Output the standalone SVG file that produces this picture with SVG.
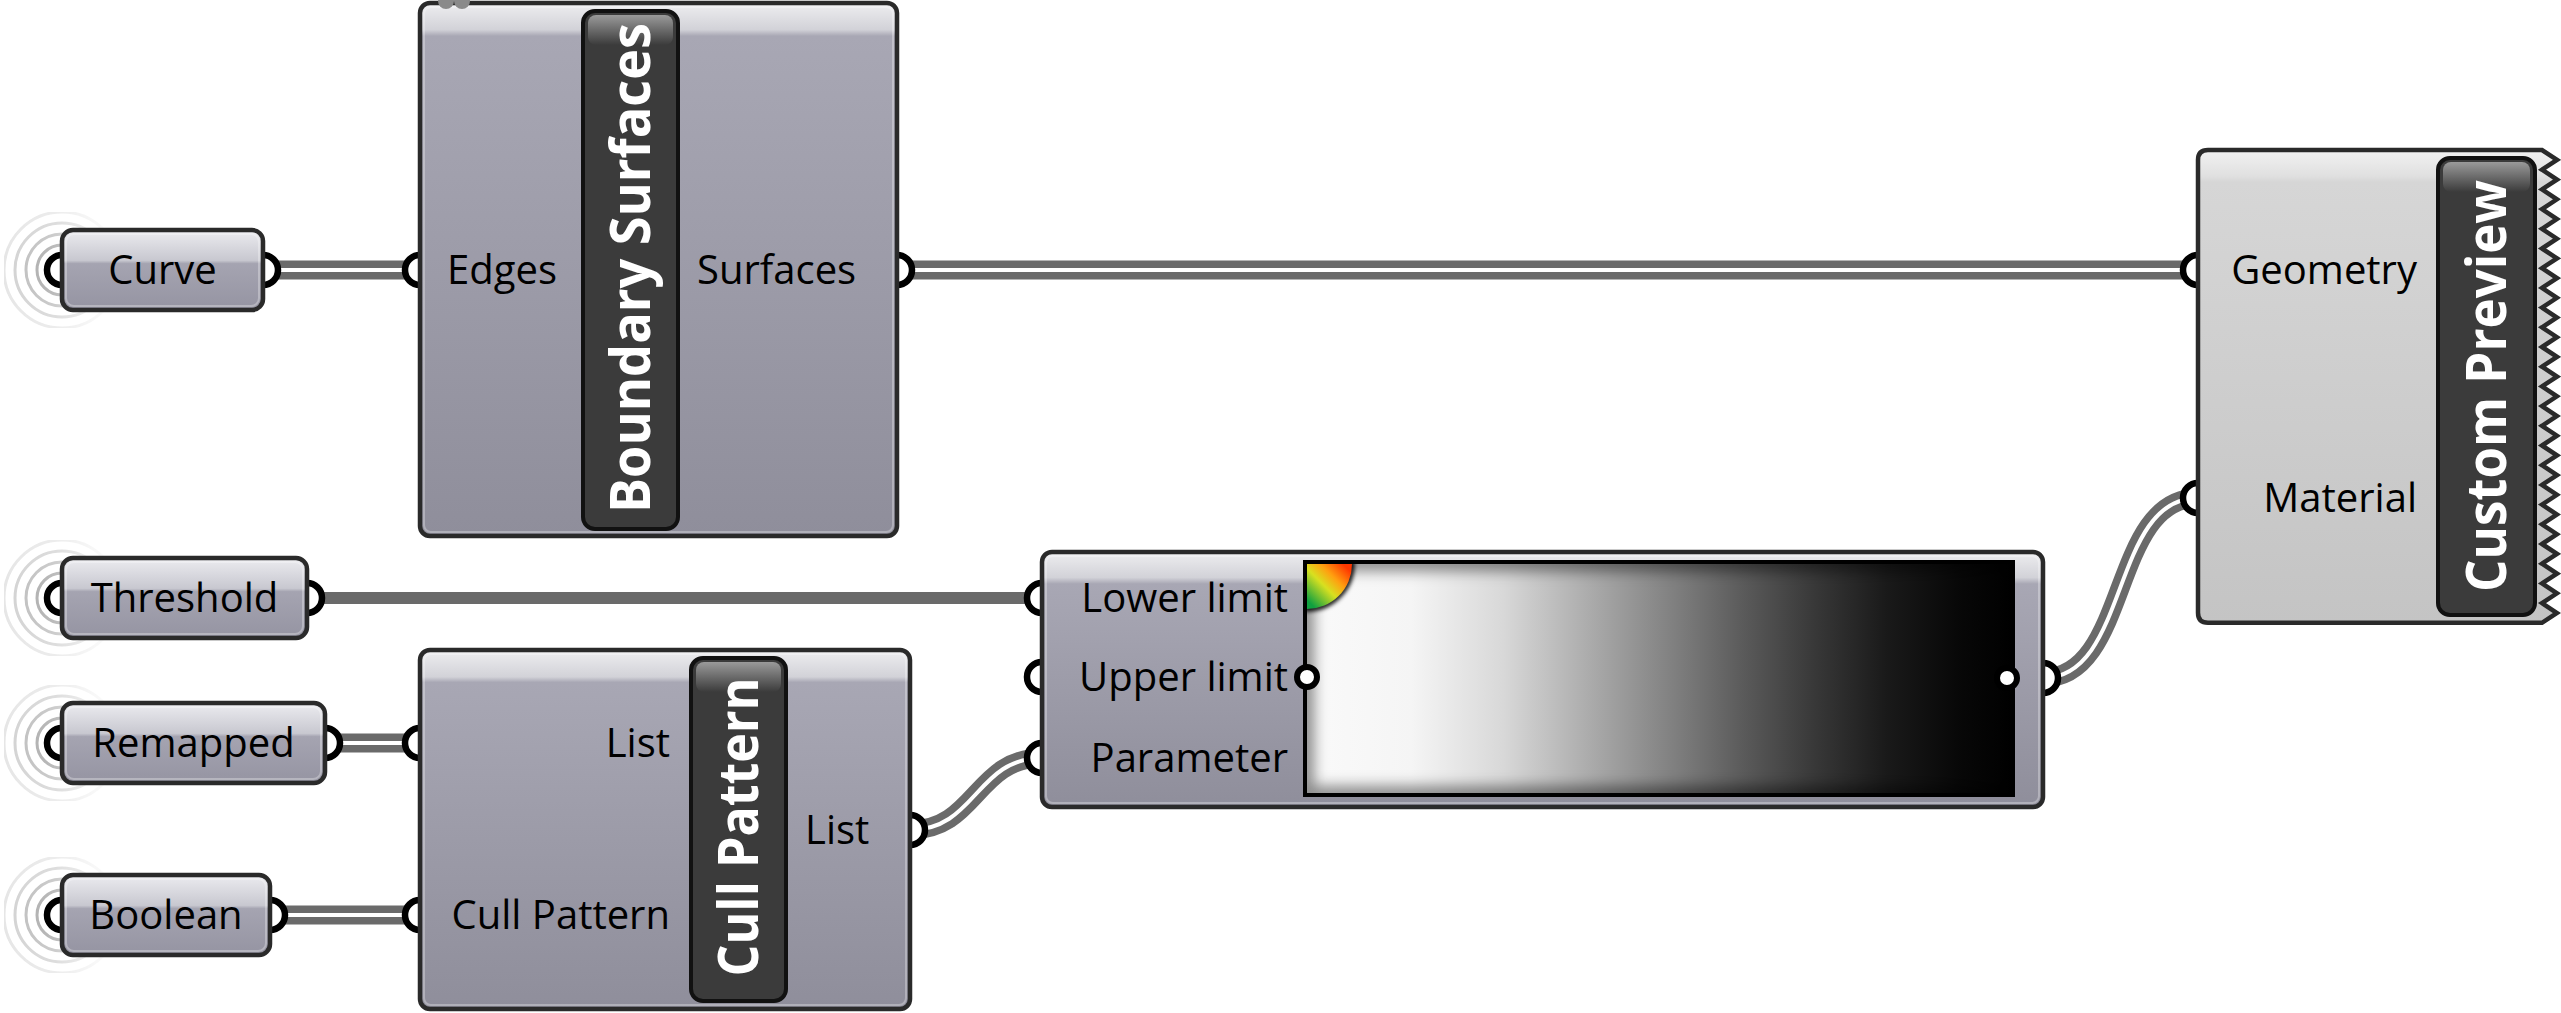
<svg xmlns="http://www.w3.org/2000/svg" width="2561" height="1013" viewBox="0 0 2561 1013">
<style>
.lbl{font-family:'Open Sans','Liberation Sans',sans-serif;font-size:40px;fill:#000}
.ttl{font-family:'Open Sans','Liberation Sans',sans-serif;font-size:55px;font-weight:700;fill:#fff}
.wo{fill:none;stroke:#6a6a6a;stroke-width:19}
.wi{fill:none;stroke:#fff;stroke-width:4}
.port{fill:#fff;stroke:#000;stroke-width:6.5}
.body{stroke:#2a2a2a;stroke-width:4.5}
.rim{fill:none;stroke:#fff;stroke-opacity:0.3;stroke-width:2}
.bar{fill:#3b3b3b;stroke:#111;stroke-width:4}
.barhi{fill:url(#gBarHi)}
.ring{fill:none;stroke-width:3}
.grip{fill:#fff;stroke:#000;stroke-width:6}
</style>
<defs>
<linearGradient id="gParam" x1="0" y1="0" x2="0" y2="1">
<stop offset="0" stop-color="#ececf0"/><stop offset="0.38" stop-color="#c8c8d0"/><stop offset="0.42" stop-color="#a5a4b1"/><stop offset="1" stop-color="#9594a2"/>
</linearGradient>
<linearGradient id="gBS" x1="0" y1="0" x2="0" y2="1">
<stop offset="0" stop-color="#eeeef0"/><stop offset="0.05" stop-color="#d2d2d8"/><stop offset="0.062" stop-color="#a8a7b4"/><stop offset="1" stop-color="#8f8e9b"/>
</linearGradient>
<linearGradient id="gCP" x1="0" y1="0" x2="0" y2="1">
<stop offset="0" stop-color="#eeeef0"/><stop offset="0.075" stop-color="#d2d2d8"/><stop offset="0.09" stop-color="#a8a7b4"/><stop offset="1" stop-color="#8f8e9b"/>
</linearGradient>
<linearGradient id="gGR" x1="0" y1="0" x2="0" y2="1">
<stop offset="0" stop-color="#eeeef0"/><stop offset="0.1" stop-color="#d2d2d8"/><stop offset="0.125" stop-color="#a8a7b4"/><stop offset="1" stop-color="#8f8e9b"/>
</linearGradient>
<linearGradient id="gPrev" x1="0" y1="0" x2="0" y2="1">
<stop offset="0" stop-color="#f2f2f2"/><stop offset="0.055" stop-color="#e0e0e0"/><stop offset="0.068" stop-color="#d6d6d6"/><stop offset="1" stop-color="#c4c4c4"/>
</linearGradient>
<linearGradient id="gBarHi" x1="0" y1="0" x2="0" y2="1">
<stop offset="0" stop-color="#9a9a9a"/><stop offset="1" stop-color="#3b3b3b"/>
</linearGradient>
<linearGradient id="gBW" x1="0" y1="0" x2="1" y2="0">
<stop offset="0" stop-color="#fafafa"/><stop offset="0.15" stop-color="#f5f5f5"/><stop offset="0.28" stop-color="#d8d8d8"/><stop offset="0.4" stop-color="#acacac"/><stop offset="0.52" stop-color="#808080"/><stop offset="0.62" stop-color="#5a5a5a"/><stop offset="0.72" stop-color="#383838"/><stop offset="0.82" stop-color="#1a1a1a"/><stop offset="0.92" stop-color="#080808"/><stop offset="1" stop-color="#000"/>
</linearGradient>
<linearGradient id="gGroove1" x1="0" y1="0" x2="1" y2="0">
<stop offset="0" stop-color="#8c8c8c"/><stop offset="0.5" stop-color="#555"/><stop offset="1" stop-color="#111"/>
</linearGradient>
<linearGradient id="gGroove2" x1="0" y1="0" x2="1" y2="0">
<stop offset="0" stop-color="#f8f8f8"/><stop offset="0.5" stop-color="#c0c0c0"/><stop offset="1" stop-color="#808080"/>
</linearGradient>
<linearGradient id="gPie" x1="0" y1="1" x2="1" y2="0">
<stop offset="0.1" stop-color="#10a040"/><stop offset="0.45" stop-color="#d8e020"/><stop offset="0.65" stop-color="#ffa010"/><stop offset="0.9" stop-color="#ff3800"/>
</linearGradient>
<linearGradient id="gFade" x1="0" y1="0" x2="1" y2="0">
<stop offset="0" stop-color="#fff"/><stop offset="0.45" stop-color="#fff" stop-opacity="0.75"/><stop offset="1" stop-color="#fff" stop-opacity="0"/>
</linearGradient>
<mask id="fade" maskContentUnits="objectBoundingBox"><rect width="1" height="1" fill="url(#gFade)"/></mask>
<filter id="blur6" x="-20%" y="-20%" width="140%" height="140%"><feGaussianBlur stdDeviation="7"/></filter>
<filter id="blur2" x="-20%" y="-20%" width="140%" height="140%"><feGaussianBlur stdDeviation="2"/></filter>
<clipPath id="clipGrad"><rect x="1305" y="562" width="708" height="233"/></clipPath>
<g id="rings">
<circle class="ring" r="25" stroke="#a6a6a6"/><circle class="ring" r="36" stroke="#bcbcbc"/><circle class="ring" r="47" stroke="#d2d2d2"/><circle class="ring" r="58" stroke="#e6e6e6"/>
</g>
</defs>
<rect width="2561" height="1013" fill="#fff"/>

<g id="connectors">
<path class="wo" d="M263,270 H420"/><path class="wi" d="M263,270 H420"/>
<path class="wo" d="M897,270 H2198"/><path class="wi" d="M897,270 H2198"/>
<path d="M307,598 H1042" fill="none" stroke="#6a6a6a" stroke-width="12"/>
<path class="wo" d="M325,743 H420"/><path class="wi" d="M325,743 H420"/>
<path class="wo" d="M270,915 H420"/><path class="wi" d="M270,915 H420"/>
<path class="wo" d="M910,830 C976,830 976,758 1042,758"/><path class="wi" d="M910,830 C976,830 976,758 1042,758"/>
<path class="wo" d="M2043,678 C2130,678 2110,498 2198,498"/><path class="wi" d="M2043,678 C2130,678 2110,498 2198,498"/>
</g>

<g id="curve">
<use href="#rings" x="62" y="270" mask="url(#fade)"/>
<circle class="port" cx="62" cy="270" r="15"/><circle class="port" cx="263" cy="270" r="15"/>
<rect class="body" x="62" y="230" width="201" height="80" rx="11" fill="url(#gParam)"/>
<rect class="rim" x="66" y="234" width="193" height="72" rx="8"/>
<text class="lbl" x="162.5" y="284" text-anchor="middle">Curve</text>
</g>

<g id="threshold">
<use href="#rings" x="62" y="598" mask="url(#fade)"/>
<circle class="port" cx="62" cy="598" r="15"/><circle class="port" cx="307" cy="598" r="15"/>
<rect class="body" x="62" y="558" width="245" height="80" rx="11" fill="url(#gParam)"/>
<rect class="rim" x="66" y="562" width="237" height="72" rx="8"/>
<text class="lbl" x="184.5" y="612" text-anchor="middle">Threshold</text>
</g>

<g id="remapped">
<use href="#rings" x="62" y="743" mask="url(#fade)"/>
<circle class="port" cx="62" cy="743" r="15"/><circle class="port" cx="325" cy="743" r="15"/>
<rect class="body" x="62" y="703" width="263" height="80" rx="11" fill="url(#gParam)"/>
<rect class="rim" x="66" y="707" width="255" height="72" rx="8"/>
<text class="lbl" x="193.5" y="757" text-anchor="middle">Remapped</text>
</g>

<g id="boolean">
<use href="#rings" x="62" y="915" mask="url(#fade)"/>
<circle class="port" cx="62" cy="915" r="15"/><circle class="port" cx="270" cy="915" r="15"/>
<rect class="body" x="62" y="875" width="208" height="80" rx="11" fill="url(#gParam)"/>
<rect class="rim" x="66" y="879" width="200" height="72" rx="8"/>
<text class="lbl" x="166" y="929" text-anchor="middle">Boolean</text>
</g>

<g id="boundary-surfaces">
<circle class="port" cx="420" cy="270" r="15"/><circle class="port" cx="897" cy="270" r="15"/>
<rect class="body" x="420" y="3" width="477" height="533" rx="10" fill="url(#gBS)"/>
<rect class="rim" x="424" y="7" width="469" height="525" rx="7"/>
<circle cx="446" cy="1" r="8" fill="#8a8a8a"/><circle cx="462" cy="1" r="8" fill="#8a8a8a"/>
<rect class="bar" x="583" y="11" width="95" height="518" rx="12"/>
<rect class="barhi" x="588" y="15" width="85" height="30" rx="8"/>
<text class="ttl" transform="translate(650,268) rotate(-90)" text-anchor="middle" textLength="490" lengthAdjust="spacingAndGlyphs">Boundary Surfaces</text>
<text class="lbl" x="447" y="284">Edges</text>
<text class="lbl" x="697" y="284">Surfaces</text>
</g>

<g id="cull-pattern">
<circle class="port" cx="420" cy="743" r="15"/><circle class="port" cx="420" cy="915" r="15"/><circle class="port" cx="910" cy="830" r="15"/>
<rect class="body" x="420" y="650" width="490" height="359" rx="10" fill="url(#gCP)"/>
<rect class="rim" x="424" y="654" width="482" height="351" rx="7"/>
<rect class="bar" x="691" y="658" width="95" height="343" rx="12"/>
<rect class="barhi" x="696" y="662" width="85" height="30" rx="8"/>
<text class="ttl" transform="translate(758,827) rotate(-90)" text-anchor="middle" textLength="299" lengthAdjust="spacingAndGlyphs">Cull Pattern</text>
<text class="lbl" x="670" y="757" text-anchor="end">List</text>
<text class="lbl" x="670" y="929" text-anchor="end">Cull Pattern</text>
<text class="lbl" x="805" y="844">List</text>
</g>

<g id="gradient">
<circle class="port" cx="1042" cy="598" r="15"/><circle class="port" cx="1042" cy="677" r="15"/><circle class="port" cx="1042" cy="758" r="15"/><circle class="port" cx="2043" cy="678" r="15"/>
<rect class="body" x="1042" y="552" width="1001" height="255" rx="10" fill="url(#gGR)"/>
<rect class="rim" x="1046" y="556" width="993" height="247" rx="7"/>
<rect x="1305" y="562" width="708" height="233" fill="url(#gBW)"/>
<g clip-path="url(#clipGrad)">
<rect x="1305" y="562" width="708" height="233" fill="none" stroke="#000" stroke-opacity="0.45" stroke-width="18" filter="url(#blur6)"/>
<path d="M1307,564 H1352 A45,45 0 0 1 1307,609 Z" fill="none" stroke="#000" stroke-width="5" filter="url(#blur2)"/>
<path d="M1307,564 H1352 A45,45 0 0 1 1307,609 Z" fill="url(#gPie)"/>
</g>
<line x1="1307" y1="674.5" x2="2005" y2="674.5" stroke="url(#gGroove1)" stroke-width="3"/>
<line x1="1307" y1="678.5" x2="2005" y2="678.5" stroke="url(#gGroove2)" stroke-width="3"/>
<rect x="1305" y="562" width="708" height="233" fill="none" stroke="#000" stroke-width="4"/>
<circle class="grip" cx="1307" cy="677" r="10"/>
<circle class="grip" cx="2007" cy="678" r="10"/>
<text class="lbl" x="1288" y="612" text-anchor="end">Lower limit</text>
<text class="lbl" x="1288" y="691" text-anchor="end">Upper limit</text>
<text class="lbl" x="1288" y="772" text-anchor="end">Parameter</text>
</g>

<g id="custom-preview">
<circle class="port" cx="2198" cy="270" r="15"/><circle class="port" cx="2198" cy="498" r="15"/>
<path class="body" fill="url(#gPrev)" stroke-linejoin="miter" d="M2198,160 Q2198,150 2208,150 L2542,150 L2557,159.9 L2542,169.7 L2557,179.6 L2542,189.4 L2557,199.3 L2542,209.1 L2557,219 L2542,228.8 L2557,238.7 L2542,248.5 L2557,258.4 L2542,268.2 L2557,278.1 L2542,287.9 L2557,297.8 L2542,307.6 L2557,317.5 L2542,327.3 L2557,337.2 L2542,347 L2557,356.9 L2542,366.7 L2557,376.6 L2542,386.4 L2557,396.3 L2542,406.1 L2557,416 L2542,425.8 L2557,435.7 L2542,445.5 L2557,455.4 L2542,465.2 L2557,475.1 L2542,484.9 L2557,494.8 L2542,504.6 L2557,514.5 L2542,524.3 L2557,534.2 L2542,544 L2557,553.9 L2542,563.7 L2557,573.6 L2542,583.4 L2557,593.3 L2542,603.1 L2557,613 L2542,622.8 L2208,622.8 Q2198,622.8 2198,612.8 Z"/>
<rect class="bar" x="2438" y="158" width="97" height="457" rx="12"/>
<rect class="barhi" x="2443" y="162" width="87" height="30" rx="8"/>
<text class="ttl" transform="translate(2506,386) rotate(-90)" text-anchor="middle" textLength="412" lengthAdjust="spacingAndGlyphs">Custom Preview</text>
<text class="lbl" x="2417" y="284" text-anchor="end">Geometry</text>
<text class="lbl" x="2417" y="512" text-anchor="end">Material</text>
</g>
</svg>
